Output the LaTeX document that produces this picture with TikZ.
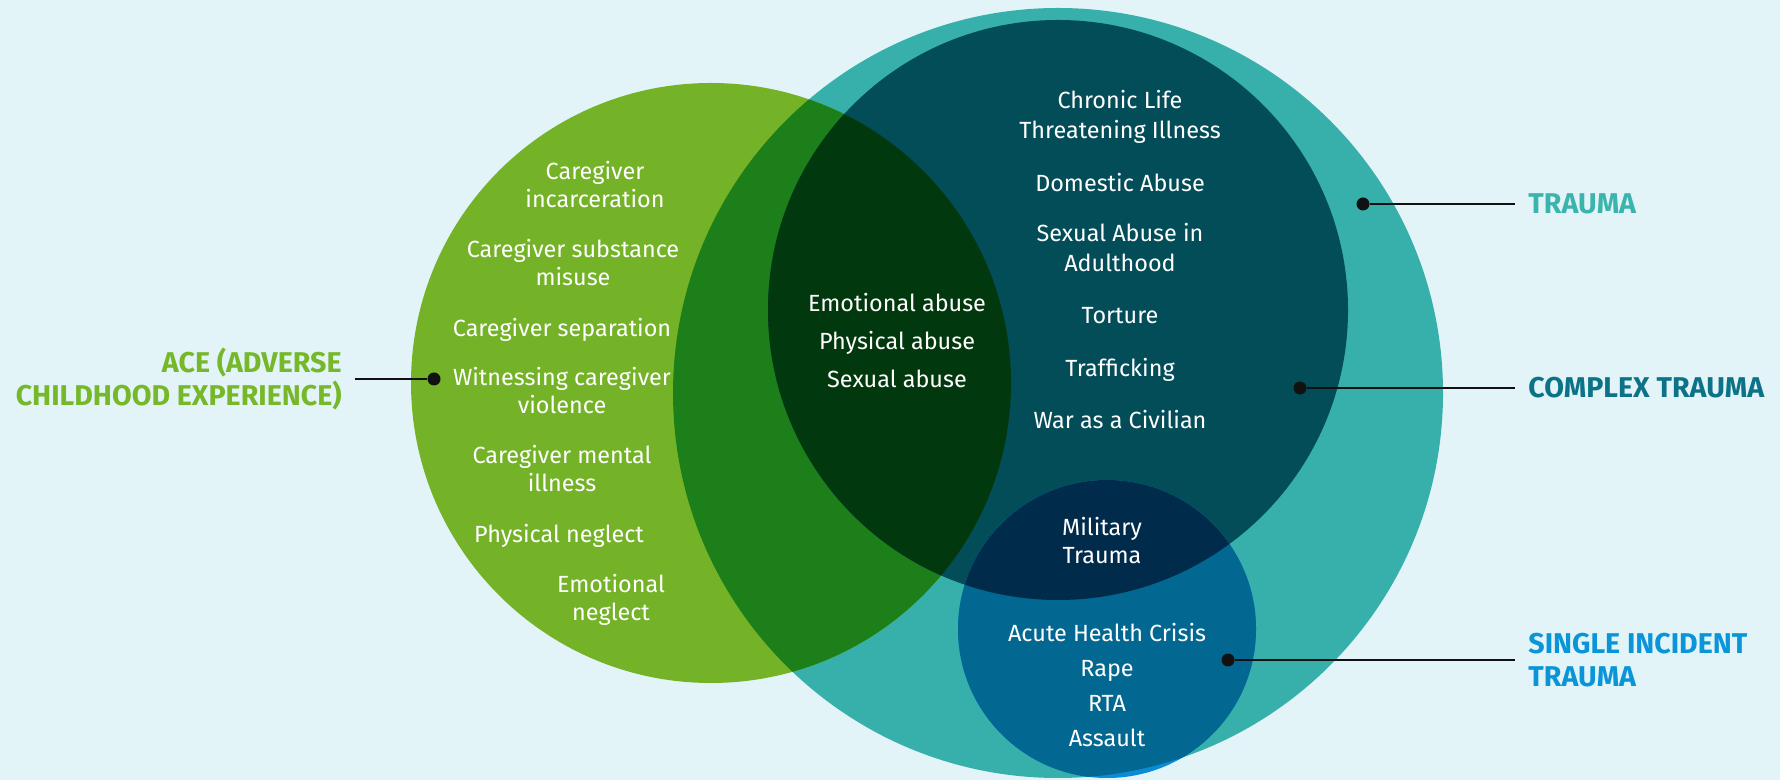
\documentclass[tikz,border=0pt]{standalone}
\usepackage{fontspec}
\setmainfont{Fira Sans}
\usepackage{tikz}
\usetikzlibrary{positioning}
\definecolor{colorbg}           {RGB}{226,244,248}
\definecolor{colorace}          {RGB}{116,178,39 }
\definecolor{colortrauma}       {RGB}{55 ,176,172}
\definecolor{coloracetrauma}    {RGB}{28 ,127,26 }
\definecolor{colorcomplex}      {RGB}{3  ,77 ,89 }
\definecolor{coloracecomplex}   {RGB}{2  ,56 ,13 }
\definecolor{colorsingle}       {RGB}{2  ,103,145}
\definecolor{colorsingleout}    {RGB}{10 ,139,216}
\definecolor{colorsinglecomplex}{RGB}{0  ,43 ,75 }
\definecolor{coloracetxt}       {RGB}{118,184,42 }
\definecolor{colortraumatxt}    {RGB}{59 ,180,173}
\definecolor{colorcomplextxt}   {RGB}{12 ,114,135}
\definecolor{colorsingletxt}    {RGB}{9  ,149,215}
\definecolor{colortext}         {RGB}{17 ,17 ,17 }

\begin{document}
\begin{tikzpicture}[
    x=0.5pt, y=0.5pt,
    font={\fontsize{11.7}{14}\selectfont},
    item/.style={text=white,inner sep=0pt,align=center},
    stack/.style={item,execute at begin node=\strut,execute at end node=\strut},
    heading/.style={font={\fontsize{14.3}{16.5}\selectfont\bfseries},inner sep=6.5pt},
    dot/.style={circle,fill=colortext,inner sep=0pt,minimum size=6.5pt},
    pointer/.style={draw=colortext,line width=1pt},
]

    % Circle centres
    \coordinate (acec)     at (711,397);
    \coordinate (traumac)  at (1058,387);
    \coordinate (complexc) at (1058,470);
    \coordinate (singlec)  at (1107,151);

    % Background
    \fill[colorbg] (0,0) rectangle (1780,780);

    % Trauma and ACE
    \fill[colortrauma] (traumac) circle (385);
    \fill[colorace] (acec) circle (300);
    \begin{scope}
        \clip (acec) circle (300);
        \fill[coloracetrauma] (traumac) circle (385);
    \end{scope}

    % Complex trauma
    \fill[colorcomplex] (complexc) circle (290);
    \begin{scope}
        \clip (acec) circle (300);
        \fill[coloracecomplex] (complexc) circle (290);
    \end{scope}

    % Single incident trauma
    \fill[colorsingleout] (singlec) circle (149);
    \begin{scope}
        \clip (traumac) circle (385);
        \fill[colorsingle] (singlec) circle (149);
    \end{scope}
    \begin{scope}
        \clip (complexc) circle (290);
        \fill[colorsinglecomplex] (singlec) circle (149);
    \end{scope}

    % ACE items
    \node[stack] (incarc) at (595,591.5) {Caregiver\\incarceration};
    \node[stack,below=11.1pt of incarc,xshift=-11pt] (substance) {Caregiver substance\\misuse};
    \node[stack,below=11.1pt of substance,xshift=-5.5pt] (separation) {Caregiver separation};
    \node[stack,below=11.1pt of separation] (witness) {Witnessing caregiver\\violence};
    \node[stack,below=11.1pt of witness] (mental) {Caregiver mental\\illness};
    \node[stack,below=11.1pt of mental,xshift=-1.5pt] (physneglect) {Physical neglect};
    \node[stack,below=11.1pt of physneglect,xshift=26pt] (emoneglect) {Emotional\\neglect};

    % Complex trauma items
    \begin{scope}[font={\fontsize{11.7}{15}\selectfont}]
    \node[stack] (chronic) at (1120,661) {Chronic Life\\Threatening Illness};
    \node[stack,below=10.9pt of chronic] (domestic) {Domestic Abuse};
    \node[stack,below=10.9pt of domestic] (sexadult) {Sexual Abuse in\\Adulthood};
    \node[stack,below=10.9pt of sexadult] (torture) {Torture};
    \node[stack,below=10.9pt of torture] (trafficking) {Trafficking};
    \node[stack,below=10.9pt of trafficking] (war) {War as a Civilian};
    \end{scope}

    % Overlaps
    \node[item,font={\fontsize{11.7}{19}\selectfont}] (abuse) at (897,439) {Emotional abuse\\Physical abuse\\Sexual abuse};
    \node[item] (military) at (1102,239) {Military\\Trauma};

    % Single incident items
    \node[item,font={\fontsize{11.7}{17.5}\selectfont}] (acute) at (1107,95) {Acute Health Crisis\\Rape\\RTA\\Assault};

    % Headings
    \node[heading,text=coloracetxt,align=right,anchor=east] (acetxt) at (355,401) {ACE (ADVERSE\\CHILDHOOD EXPERIENCE)};
    \node[heading,text=colortraumatxt,anchor=west] (traumatxt) at (1515,576) {TRAUMA};
    \node[heading,text=colorcomplextxt,anchor=west] (complextxt) at (1515,392) {COMPLEX TRAUMA};
    \node[heading,text=colorsingletxt,align=left,anchor=west] (singletxt) at (1515,120) {SINGLE INCIDENT\\TRAUMA};

    % Pointers
    \node[dot] (acedot)     at (434,401)  {};
    \node[dot] (traumadot)  at (1363,576) {};
    \node[dot] (complexdot) at (1300,392) {};
    \node[dot] (singledot)  at (1228,120) {};
    \draw[pointer] (acedot) -- (acetxt);
    \draw[pointer] (traumadot) -- (traumatxt);
    \draw[pointer] (complexdot) -- (complextxt);
    \draw[pointer] (singledot) -- (singletxt);

\end{tikzpicture}
\end{document}
